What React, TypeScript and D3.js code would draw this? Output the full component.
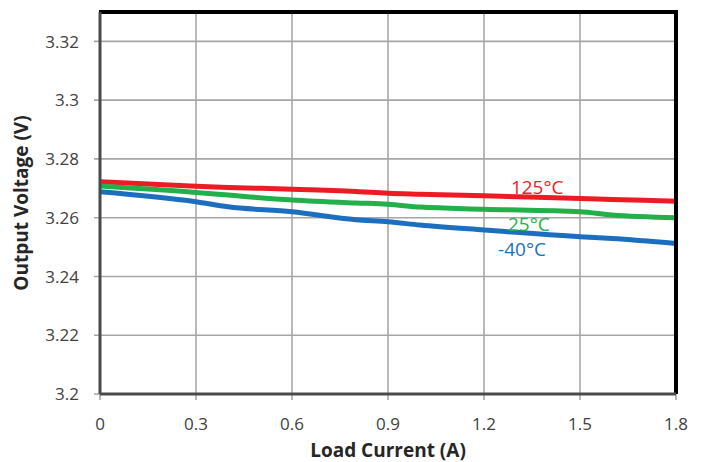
import React from "react";
import * as d3 from "d3";

// Load current (A) sample points, shared by every temperature series
const current = [0, 0.3, 0.4, 0.6, 0.8, 0.9, 1.0, 1.2, 1.5, 1.6, 1.8];
// Output voltage (V) per temperature
const v125 = [3.2722, 3.2707, 3.2703, 3.2697, 3.2689, 3.2683, 3.268, 3.2675, 3.2665, 3.2662, 3.2656];
const v25 = [3.2708, 3.2686, 3.2677, 3.266, 3.265, 3.2646, 3.2636, 3.2629, 3.262, 3.2609, 3.26];
const vm40 = [3.2688, 3.2654, 3.2637, 3.262, 3.2593, 3.2586, 3.2575, 3.2558, 3.2535, 3.2529, 3.2512];

const xTicks = [0, 0.3, 0.6, 0.9, 1.2, 1.5, 1.8];
const yTicks = [3.2, 3.22, 3.24, 3.26, 3.28, 3.3, 3.32];
const seriesNames = ["125°C", "25°C", "-40°C"];

const W = 705;
const H = 462;
const M = { left: 100, right: 29, top: 12, bottom: 68 };

export default function App() {
  const x = d3.scaleLinear().domain([0, 1.8]).range([M.left, W - M.right]);
  const y = d3.scaleLinear().domain([3.2, 3.33]).range([H - M.bottom, M.top]);

  const line = d3
    .line<number>()
    .x((_, i) => x(current[i]))
    .y((d) => y(d))
    .curve(d3.curveMonotoneX);

  const series = [
    { name: seriesNames[0], values: v125, color: "#ED1C24", lx: 1.284, ly: 3.268 },
    { name: seriesNames[1], values: v25, color: "#22B04B", lx: 1.275, ly: 3.2554 },
    { name: seriesNames[2], values: vm40, color: "#1C6FBE", lx: 1.244, ly: 3.2469 },
  ];

  const x0 = x(0);
  const x1 = x(1.8);
  const yb = y(3.2);
  const yt = y(3.33);
  const font = "'Open Sans', 'Liberation Sans', sans-serif";

  return (
    <svg
      width={W}
      height={H}
      style={{ position: "absolute", left: 0, top: 0, background: "#fff" }}
      fontFamily={font}
    >
      {/* gridlines */}
      {xTicks.map((t) => (
        <line key={"gx" + t} x1={x(t)} x2={x(t)} y1={yt} y2={yb + 6} stroke="#A6A6A6" strokeWidth={1.6} />
      ))}
      {yTicks.map((t) => (
        <line key={"gy" + t} x1={x0 - 6} x2={x1} y1={y(t)} y2={y(t)} stroke="#A6A6A6" strokeWidth={1.6} />
      ))}

      {/* series */}
      {series.map((s) => (
        <path
          key={s.name}
          d={line(s.values) || ""}
          fill="none"
          stroke={s.color}
          strokeWidth={5}
          strokeLinejoin="round"
        />
      ))}

      {/* frame */}
      <line x1={x0 - 1} x2={x1 + 2} y1={yt} y2={yt} stroke="#000" strokeWidth={4} />
      <line x1={x1} x2={x1} y1={yt - 2} y2={yb} stroke="#000" strokeWidth={4} />
      <line x1={x0} x2={x0} y1={yt} y2={yb} stroke="#4a4a4a" strokeWidth={3} />
      <line x1={x0} x2={x1} y1={yb} y2={yb} stroke="#4a4a4a" strokeWidth={3} />

      {/* series labels */}
      {series.map((s) => (
        <text key={"l" + s.name} x={x(s.lx)} y={y(s.ly)} fill={s.color} fontSize={19}>
          {s.name}
        </text>
      ))}

      {/* y tick labels */}
      {yTicks.map((t) => (
        <text
          key={"ty" + t}
          x={x0 - 21}
          y={y(t)}
          dy="0.36em"
          textAnchor="end"
          fontSize={17}
          fill="#404040"
        >
          {d3.format("")(t)}
        </text>
      ))}

      {/* x tick labels */}
      {xTicks.map((t) => (
        <text
          key={"tx" + t}
          x={x(t)}
          y={yb + 36}
          textAnchor="middle"
          fontSize={17}
          fill="#404040"
        >
          {d3.format("")(t)}
        </text>
      ))}

      {/* axis titles */}
      <text
        x={(x0 + x1) / 2}
        y={H - 5}
        textAnchor="middle"
        fontSize={19}
        fontWeight="bold"
        fill="#262626"
      >
        Load Current (A)
      </text>
      <text
        transform={`translate(28, ${(yt + yb) / 2}) rotate(-90)`}
        textAnchor="middle"
        fontSize={19}
        fontWeight="bold"
        fill="#262626"
      >
        Output Voltage (V)
      </text>
    </svg>
  );
}
